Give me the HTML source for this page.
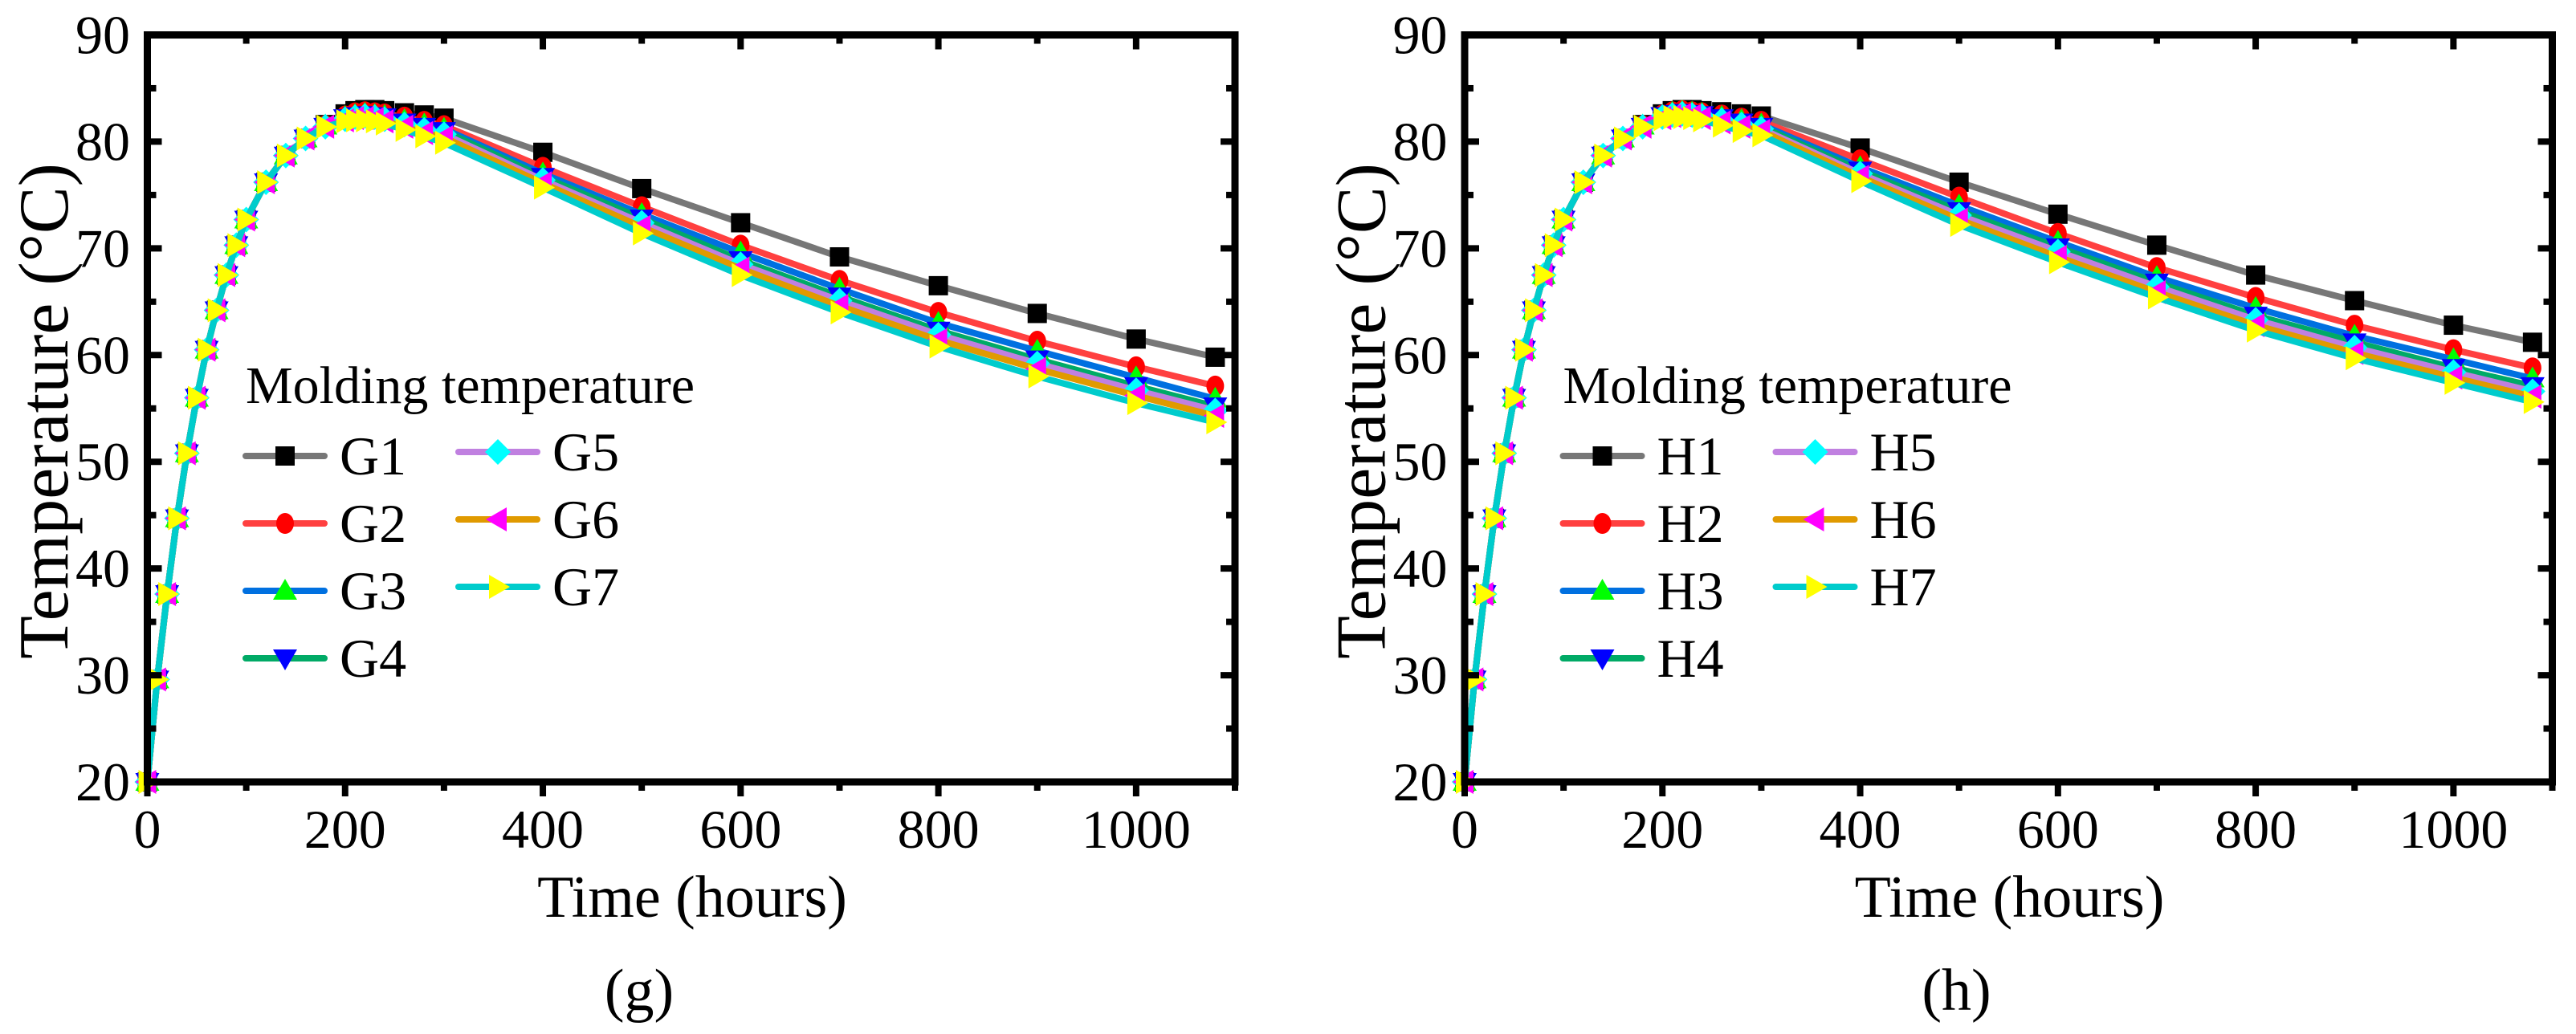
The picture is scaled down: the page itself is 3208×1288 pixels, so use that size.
<!DOCTYPE html>
<html><head><meta charset="utf-8"><style>
html,body{margin:0;padding:0;background:#fff;}
svg{display:block;font-family:"Liberation Serif",serif;}
</style></head><body>
<svg id="fig" width="3208" height="1288" viewBox="0 0 3208 1288" xmlns="http://www.w3.org/2000/svg"></svg>
<script>
// ---- data ----
const times = [0,10,20,30,40,50,60,70,80,90,100,120,140,160,180,200,210,220,230,240,260,280,300,400,500,600,700,800,900,1000,1080];
const rise = [20,29.6,37.6,44.7,50.8,56.0,60.5,64.2,67.5,70.3,72.7,76.2,78.7,80.3];
// values from t=180 onward
const g1Tail = [81.6,82.6,82.9,83.0,83.0,82.9,82.7,82.5,82.2,79.0,75.6,72.4,69.2,66.5,63.9,61.5,59.8];
const g2Tail = [81.5,82.4,82.7,82.8,82.7,82.6,82.3,81.9,81.5,77.6,73.9,70.3,67.0,64.0,61.3,58.9,57.1];
const g3Tail = [81.5,82.3,82.5,82.6,82.5,82.4,82.0,81.6,81.2,77.0,73.2,69.6,66.2,63.0,60.4,57.9,55.9];
const g4Tail = [81.4,82.2,82.4,82.5,82.4,82.3,81.8,81.4,81.0,76.7,72.8,68.9,65.5,62.3,59.6,57.1,55.2];
const g5Tail = [81.4,82.1,82.3,82.4,82.3,82.1,81.6,81.1,80.7,76.4,72.4,68.5,65.1,61.9,59.2,56.7,54.8];
const g6Tail = [81.4,82.0,82.2,82.2,82.1,81.9,81.4,80.8,80.4,76.1,72.0,68.1,64.6,61.4,58.7,56.2,54.3];
const g7Tail = [81.4,81.9,82.0,82.0,81.9,81.7,81.1,80.5,79.9,75.7,71.4,67.5,64.0,60.8,58.0,55.5,53.7];
const h1Tail = [81.6,82.6,82.9,83.0,83.0,82.9,82.8,82.6,82.4,79.4,76.2,73.2,70.3,67.5,65.1,62.8,61.2];
const h2Tail = [81.5,82.5,82.8,82.9,82.8,82.7,82.5,82.2,81.9,78.3,74.8,71.4,68.2,65.4,62.8,60.5,58.8];
const h3Tail = [81.5,82.4,82.7,82.8,82.7,82.6,82.3,82.0,81.6,77.6,74.0,70.6,67.3,64.4,61.8,59.6,57.8];
const h4Tail = [81.4,82.4,82.6,82.7,82.6,82.5,82.2,81.8,81.4,77.3,73.5,70.1,66.8,63.7,61.2,58.8,57.1];
const h5Tail = [81.4,82.3,82.5,82.6,82.5,82.4,82.0,81.6,81.2,77.0,73.1,69.7,66.4,63.3,60.7,58.4,56.6];
const h6Tail = [81.4,82.2,82.4,82.5,82.4,82.2,81.8,81.4,81.0,76.7,72.7,69.2,65.9,62.8,60.2,57.9,56.1];
const h7Tail = [81.4,82.1,82.3,82.3,82.2,82.0,81.5,81.0,80.6,76.3,72.2,68.7,65.4,62.3,59.7,57.4,55.6];
const gNames = ["G1","G2","G3","G4","G5","G6","G7"];
const hNames = ["H1","H2","H3","H4","H5","H6","H7"];
const xTicks = [0,200,400,600,800,1000];
const yTicks = [20,30,40,50,60,70,80,90];

const lineColors = ["#777777","#ff4040","#0070e0","#00aa66","#c080e0","#e09a00","#00cccc"];
const markColors = ["#000000","#ff0000","#00ff00","#0000ff","#00ffff","#ff00ff","#ffff00"];
const shapes = ["square","circle","up","down","diamond","left","right"];

const NS="http://www.w3.org/2000/svg";
const svg=document.getElementById("fig");
function mk(tag,attrs,parent){const e=document.createElementNS(NS,tag);for(const k in attrs)e.setAttribute(k,attrs[k]);(parent||svg).appendChild(e);return e;}

function marker(g,shape,cx,cy,color){
  let e;
  if(shape==="square") e=mk("rect",{x:cx-12,y:cy-12,width:24,height:24,fill:color},g);
  else if(shape==="circle") e=mk("ellipse",{cx:cx,cy:cy,rx:11,ry:13,fill:color},g);
  else {
    let p;
    if(shape==="up") p=[[cx,cy-15],[cx-15,cy+11],[cx+15,cy+11]];
    else if(shape==="down") p=[[cx,cy+15],[cx-15,cy-11],[cx+15,cy-11]];
    else if(shape==="diamond") p=[[cx,cy-16],[cx+16,cy],[cx,cy+16],[cx-16,cy]];
    else if(shape==="left") p=[[cx-15,cy],[cx+11,cy-15],[cx+11,cy+15]];
    else p=[[cx+15,cy],[cx-11,cy-15],[cx-11,cy+15]];
    e=mk("polygon",{points:p.map(a=>a.join(",")).join(" "),fill:color},g);
  }
  return e;
}

function panel(ox,names,tails,label,tag){
  const X0=ox+183.5, X1=ox+1538, Y0=974, Y1=43.5;
  const xs=t=>X0+(t/1100)*(X1-X0);
  const ys=v=>Y0-((v-20)/70)*(Y0-Y1);
  const pg=mk("g",{});
  
  
  tails.forEach((tail,i)=>{
    const vals=rise.concat(tail);
    const sg=mk("g",{},pg);
    
    
    const pts=times.map((t,j)=>xs(t).toFixed(1)+","+ys(vals[j]).toFixed(1)).join(" ");
    const pl=mk("polyline",{points:pts,fill:"none",stroke:lineColors[i],"stroke-width":8,"stroke-linejoin":"round"},sg);
    
    
    times.forEach((t,j)=>{
      const m=marker(sg,shapes[i],xs(t),ys(vals[j]),markColors[i]);
      
      
    });
  });
  const fr=mk("rect",{x:X0,y:Y1,width:X1-X0,height:Y0-Y1,fill:"none",stroke:"#000","stroke-width":9},pg);
  
  
  for(let t=0;t<=1100;t+=100){
    const major=t%200===0, L=major?18:11, x=xs(t);
    mk("line",{x1:x,y1:Y0,x2:x,y2:Y0+L,stroke:"#000","stroke-width":8},pg);
    mk("line",{x1:x,y1:Y1,x2:x,y2:Y1+L,stroke:"#000","stroke-width":8},pg);
  }
  for(let v=20;v<=90;v+=5){
    const major=v%10===0, L=major?18:11, y=ys(v);
    mk("line",{x1:X0,y1:y,x2:X0+L,y2:y,stroke:"#000","stroke-width":8},pg);
    mk("line",{x1:X1,y1:y,x2:X1-L,y2:y,stroke:"#000","stroke-width":8},pg);
  }
  xTicks.forEach(t=>{
    const tx=mk("text",{x:xs(t),y:1056,"font-size":68,"text-anchor":"middle"},pg);
    tx.textContent=t;
    
    
  });
  yTicks.forEach(v=>{
    const tx=mk("text",{x:ox+162,y:ys(v)+23,"font-size":68,"text-anchor":"end"},pg);
    tx.textContent=v;
    
    
  });
  const xt=mk("text",{x:ox+862,y:1142,"font-size":74,"text-anchor":"middle"},pg);
  xt.textContent="Time (hours)";
  
  
  const yt=mk("text",{x:0,y:0,"font-size":88,"text-anchor":"middle",transform:`translate(${ox+84},512) rotate(-90)`},pg);
  yt.textContent="Temperature (°C)";
  
  
  const pl=mk("text",{x:ox+796,y:1258,"font-size":74,"text-anchor":"middle"},pg);
  pl.textContent=label;
  
  
  const lg=mk("g",{},pg);
  
  
  const lt=mk("text",{x:ox+306,y:502,"font-size":66},lg);
  lt.textContent="Molding temperature";
  
  
  names.forEach((n,i)=>{
    const col=i<4?0:1, row=i<4?i:i-4;
    const lx=ox+(col?567:302), ly=(col?563:568)+row*84;
    const eg=mk("g",{},lg);
    
    
    mk("line",{x1:lx+4,y1:ly,x2:lx+102,y2:ly,stroke:lineColors[i],"stroke-width":8,"stroke-linecap":"round"},eg);
    marker(eg,shapes[i],lx+53,ly,markColors[i]);
    const et=mk("text",{x:lx+121,y:ly+23,"font-size":68},eg);
    et.textContent=n;
  });
}
panel(0,gNames,[g1Tail,g2Tail,g3Tail,g4Tail,g5Tail,g6Tail,g7Tail],"(g)","g");
panel(1640.5,hNames,[h1Tail,h2Tail,h3Tail,h4Tail,h5Tail,h6Tail,h7Tail],"(h)","h");
</script>
</body></html>
